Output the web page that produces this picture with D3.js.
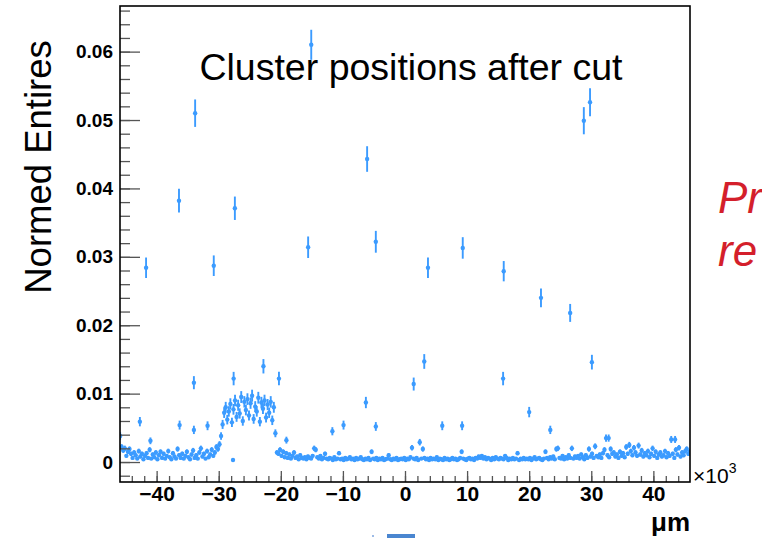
<!DOCTYPE html>
<html>
<head>
<meta charset="utf-8">
<script src="https://cdnjs.cloudflare.com/ajax/libs/d3/7.8.5/d3.min.js"></script>
<style>
  body { margin: 0; background: #fff; }
  svg { display: block; font-family: "Liberation Sans", Arial, Helvetica, sans-serif; }
</style>
</head>
<body>
<script>
// cluster position histogram, x in 10^3 um, band values in units of 1e-4
var bandStart = -46, binW = 0.25, bandUnit = 1e-4;
var bandA = [ // -46 .. -30
  38, 22, 17, 20, 9, 15, 19, 12,
  6, 14, 10, 5, 16, 8, 12, 4,
  9, 13, 6, 18, 5, 11, 7, 14,
  4, 10, 15, 6, 12, 5, 9, 16,
  7, 4, 13, 8, 5, 19, 10, 6,
  12, 5, 9, 15, 7, 4, 11, 17,
  6, 10, 5, 14, 20, 8, 12, 5,
  16, 7, 11, 18, 9, 14, 22, 19];
var bandB = [26, 38, 55, 72]; // -30 .. -29
var plateau = [ // -29 .. -20
  80, 62, 74, 85, 58, 77, 90, 66,
  83, 71, 95, 60, 88, 76, 92, 68,
  86, 97, 63, 81, 74, 94, 59, 87,
  78, 90, 65, 84, 72, 88, 61, 80,
  42, 14];
var bandC = [ // -20.5 .. 19.5
  12, 18, 9, 15, 7, 13, 6, 11,
  5, 9, 14, 6, 8, 4, 10, 6,
  5, 7, 4, 8, 6, 5, 9, 20,
  18, 7, 5, 9, 4, 6, 12, 5,
  4, 6, 5, 3, 7, 4, 5, 13,
  4, 5, 3, 6, 4, 5, 7, 4,
  5, 3, 6, 4, 5, 7, 4, 3,
  5, 4, 6, 3, 15, 5, 4, 6,
  3, 5, 4, 6, 3, 4, 5, 10,
  4, 3, 5, 4, 6, 3, 4, 5,
  4, 6, 3, 5, 4, 7, 21, 5,
  4, 6, 3, 29, 5, 19, 6, 4,
  5, 3, 6, 4, 5, 4, 7, 3,
  5, 4, 3, 6, 4, 5, 3, 4,
  6, 4, 5, 3, 4, 6, 15, 5,
  4, 3, 5, 6, 4, 5, 3, 6,
  5, 8, 6, 9, 5, 7, 4, 6,
  5, 3, 6, 4, 7, 5, 4, 6,
  5, 4, 9, 6, 3, 5, 4, 6,
  4, 5, 13, 3, 5, 4, 6, 4];
var bandD = [ // 19.5 .. 46
  5, 4, 6, 3, 5, 7, 4, 5,
  6, 4, 3, 5, 15, 6, 4, 7,
  5, 8, 4, 19, 20, 6, 5, 9,
  4, 7, 5, 10, 6, 20, 5, 8,
  6, 9, 5, 11, 7, 4, 10, 6,
  19, 8, 12, 6, 23, 9, 7, 11,
  6, 13, 18, 35, 10, 7, 19, 12,
  14, 8, 11, 6, 15, 9, 13, 7,
  22, 12, 25, 16, 10, 21, 14, 9,
  24, 11, 17, 8, 13, 10, 16, 7,
  12, 20, 9, 15, 6, 11, 14, 8,
  10, 16, 7, 13, 9, 33, 12, 6,
  18, 11, 21, 8, 14, 10, 16, 19, 12, 15];

// isolated hot bins
var hotX = [-41.7, -36.4, -33.8, -30.8, -27.4, -15.6, -15.1, -6.1, -4.7, 3.7, 9.3, 15.9, 21.9, 26.6, 28.8, 29.8, 30.1,
  -42.7, -41.0, -36.3, -34.0, -34.0, -31.8, -27.6, -22.8, -20.3, -19.1, -11.7, -9.9, -6.3, -4.7, 1.4, 3.1, 6.0, 9.2,
  15.8, 20.0, 23.4, 32.8, 43.5, -27.7];
var hotY = [0.0284, 0.0382, 0.0510, 0.0287, 0.0371, 0.0314, 0.0610, 0.0443, 0.0322, 0.0284, 0.0313, 0.0279, 0.0240, 0.0218, 0.0499, 0.0526, 0.0146,
  0.0059, 0.0031, 0.0054, 0.0116, 0.0047, 0.0053, 0.0122, 0.0140, 0.0122, 0.0032, 0.0045, 0.0054, 0.0087, 0.0052, 0.0114, 0.0147, 0.0053, 0.0053,
  0.0122, 0.0073, 0.0047, 0.0035, 0.0033, 0.0003];

var yTicks = [0, 0.01, 0.02, 0.03, 0.04, 0.05, 0.06];
var yTickLabels = ["0", "0.01", "0.02", "0.03", "0.04", "0.05", "0.06"];
var xTicks = [-40, -30, -20, -10, 0, 10, 20, 30, 40];
var normPerEntry = 7.9e-5;   // error = sqrt(v * normPerEntry)

var W = 762, H = 538;
var svg = d3.select("body").append("svg").attr("width", W).attr("height", H);

var x = d3.scaleLinear().domain([-45.9, 45.9]).range([120, 690]);
var y = d3.scaleLinear().domain([-0.00292, 0.06667]).range([482, 6]);

var band = [].concat(bandA, bandB, plateau, bandC, bandD).map(function(v, i) {
  return { x: bandStart + (i + 0.5) * binW, y: v * bandUnit };
});
var hot = hotX.map(function(v, i) { return { x: v, y: hotY[i] }; });
var pts = band.concat(hot);

svg.append("clipPath").attr("id", "clip").append("rect")
  .attr("x", 120).attr("y", 6).attr("width", 570).attr("height", 476);

var col = "#3b9bff";
var g = svg.append("g").attr("clip-path", "url(#clip)");
g.selectAll("line.err").data(pts).enter().append("line")
  .attr("class", "err")
  .attr("x1", function(d) { return x(d.x); }).attr("x2", function(d) { return x(d.x); })
  .attr("y1", function(d) { return y(d.y + Math.sqrt(d.y * normPerEntry)); })
  .attr("y2", function(d) { return y(d.y - Math.sqrt(d.y * normPerEntry)); })
  .attr("stroke", col).attr("stroke-width", 1.9);
g.selectAll("circle.mk").data(pts).enter().append("circle")
  .attr("class", "mk")
  .attr("cx", function(d) { return x(d.x); }).attr("cy", function(d) { return y(d.y); })
  .attr("r", 2.2).attr("fill", col);

// axes
var yMinor = d3.range(-0.002, 0.0661, 0.002);
var xMinor = d3.range(-44, 45, 2);

svg.append("g").attr("transform", "translate(120,0)")
  .call(d3.axisLeft(y).tickValues(yMinor).tickSize(-10).tickFormat(""))
  .call(function(a) { a.select(".domain").remove(); a.selectAll("line").attr("stroke", "#555").attr("stroke-width", 1.3); });
svg.append("g").attr("transform", "translate(120,0)")
  .call(d3.axisLeft(y).tickValues(yTicks).tickSize(-20).tickPadding(7)
    .tickFormat(function(d, i) { return yTickLabels[i]; }))
  .call(function(a) {
    a.select(".domain").remove();
    a.selectAll("line").attr("stroke", "#555").attr("stroke-width", 1.3);
    a.selectAll("text").attr("fill", "#000").style("font-size", "19px").style("font-weight", "bold")
      .style("font-family", "'Liberation Sans', Arial, sans-serif");
  });

svg.append("g").attr("transform", "translate(0,482)")
  .call(d3.axisBottom(x).tickValues(xMinor).tickSize(-6).tickFormat(""))
  .call(function(a) { a.select(".domain").remove(); a.selectAll("line").attr("stroke", "#555").attr("stroke-width", 1.3); });
svg.append("g").attr("transform", "translate(0,482)")
  .call(d3.axisBottom(x).tickValues(xTicks).tickSize(-11).tickPadding(4)
    .tickFormat(function(d) { return d < 0 ? "\u2212" + (-d) : String(d); }))
  .call(function(a) {
    a.select(".domain").remove();
    a.selectAll("line").attr("stroke", "#555").attr("stroke-width", 1.3);
    a.selectAll("text").attr("fill", "#000").style("font-size", "21px").style("font-weight", "bold")
      .style("font-family", "'Liberation Sans', Arial, sans-serif");
  });

// frame
svg.append("rect").attr("x", 120).attr("y", 6).attr("width", 570).attr("height", 476)
  .attr("fill", "none").attr("stroke", "#000").attr("stroke-width", 1.6);

// texts
svg.append("text").attr("x", 411).attr("y", 80).attr("text-anchor", "middle")
  .style("font-size", "37.5px").text("Cluster positions after cut");
svg.append("text").attr("transform", "translate(51,167) rotate(-90)").attr("text-anchor", "middle")
  .style("font-size", "36.5px").text("Normed Entires");

var m = svg.append("text").attr("x", 693).attr("y", 483).style("font-size", "21px");
m.append("tspan").text("\u00d710");
m.append("tspan").attr("dy", -10).style("font-size", "14px").text("3");
svg.append("text").attr("x", 690).attr("y", 531).attr("text-anchor", "end")
  .style("font-size", "26px").style("font-weight", "bold").text("\u03bcm");

svg.append("text").attr("x", 718).attr("y", 213).attr("fill", "#d41f2b")
  .style("font-size", "44px").style("font-style", "italic").text("Pr");
svg.append("text").attr("x", 718).attr("y", 266).attr("fill", "#d41f2b")
  .style("font-size", "44px").style("font-style", "italic").text("re");

// legend fragment at the bottom edge
svg.append("rect").attr("x", 387).attr("y", 534).attr("width", 28).attr("height", 4).attr("fill", "#4a86d0");
svg.append("rect").attr("x", 372).attr("y", 535).attr("width", 2).attr("height", 2).attr("fill", "#9dbbe6");
</script>
</body>
</html>
